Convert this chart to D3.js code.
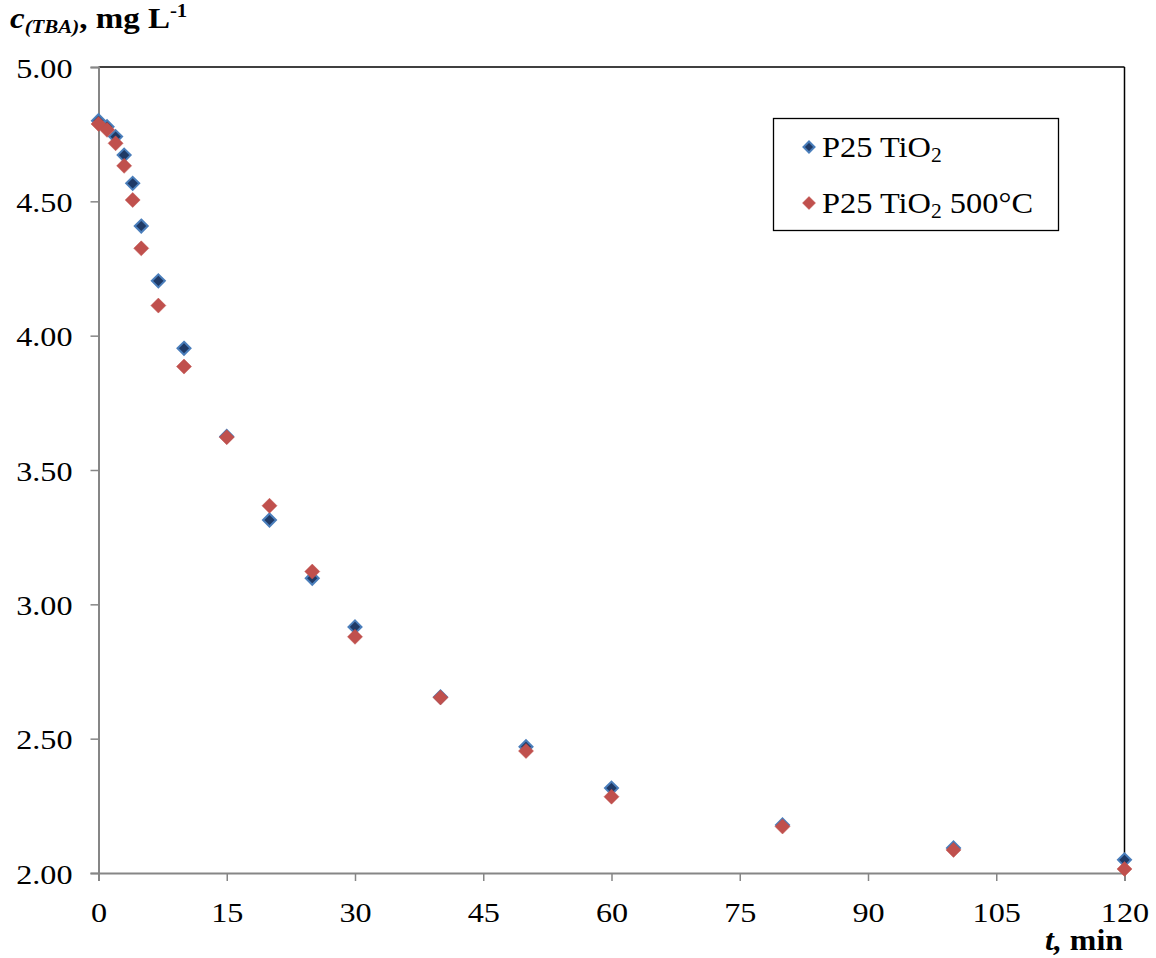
<!DOCTYPE html>
<html><head><meta charset="utf-8">
<script src="https://cdn.jsdelivr.net/npm/d3@7"></script>
<style>body{margin:0;background:#fff;} text{font-family:"Liberation Serif","Times New Roman",Times,serif;fill:#000;}</style>
</head><body>
<svg id="chart" width="1156" height="958"></svg>
<script>
const times = [0,1,2,3,4,5,7,10,15,20,25,30,40,50,60,80,100,120];
const p25 = [4.80,4.778,4.741,4.672,4.567,4.408,4.204,3.953,3.625,3.314,3.097,2.916,2.655,2.470,2.316,2.179,2.093,2.049];
const p25_500 = [4.788,4.766,4.716,4.632,4.505,4.325,4.112,3.885,3.622,3.367,3.122,2.879,2.653,2.454,2.284,2.173,2.086,2.015];
const xTicks = [0,15,30,45,60,75,90,105,120];
const yTicks = [2.0,2.5,3.0,3.5,4.0,4.5,5.0];
const seriesNames = ["P25 TiO", "P25 TiO"];

const svg = d3.select("#chart");
const SX = 1.15;
const x = d3.scaleLinear().domain([0,120]).range([98.5,1124.5]);
const y = d3.scaleLinear().domain([2,5]).range([873,67]);

// frame top/right
svg.append("line").attr("x1",98.5).attr("x2",1124.5).attr("y1",67).attr("y2",67).attr("stroke","#000").attr("stroke-width",1.5);
svg.append("line").attr("x1",1124.5).attr("x2",1124.5).attr("y1",67).attr("y2",873).attr("stroke","#000").attr("stroke-width",1.5);

// axes
const xAxis = svg.append("g").attr("transform","translate(0,873)")
  .call(d3.axisBottom(x).tickValues(xTicks).tickSize(8).tickFormat(d3.format("d")));
const yAxis = svg.append("g").attr("transform","translate(98.5,0)")
  .call(d3.axisLeft(y).tickValues(yTicks).tickSize(8).tickFormat(d3.format(".2f")));
[xAxis,yAxis].forEach(a=>{
  a.select(".domain").attr("stroke","#868686").attr("stroke-width",2);
  a.selectAll(".tick line").attr("stroke","#868686").attr("stroke-width",1.5);
  a.selectAll("text").attr("font-size",28).attr("fill","#000")
   .style("font-family",'"Liberation Serif","Times New Roman",serif');
});
xAxis.selectAll(".tick text").attr("y",0).attr("dy",0)
  .attr("transform",`translate(0,49) scale(${SX},1)`);
yAxis.selectAll(".tick text").attr("x",0).attr("dy",0)
  .attr("transform",`translate(-26,10) scale(${SX},1)`);

function dpath(r){ return `M0,${-r}L${r},0L0,${r}L${-r},0Z`; }

// blue series
svg.append("g").selectAll("path").data(times.map((t,i)=>[t,p25[i]])).join("path")
  .attr("d",dpath(6.5)).attr("transform",d=>`translate(${x(d[0])},${y(d[1])})`)
  .attr("fill","#1F3A66").attr("stroke","#4A7EBB").attr("stroke-width",2);
// red series
svg.append("g").selectAll("path").data(times.map((t,i)=>[t,p25_500[i]])).join("path")
  .attr("d",dpath(7.5)).attr("transform",d=>`translate(${x(d[0])},${y(d[1])})`)
  .attr("fill","#C0504D").attr("stroke","#C0504D").attr("stroke-width",0.5);

// legend
const lg = svg.append("g");
lg.append("rect").attr("x",773.5).attr("y",118.5).attr("width",285).attr("height",112)
  .attr("fill","#fff").attr("stroke","#000").attr("stroke-width",1.3);
const legItems = [{name:seriesNames[0],suffix:"",fill:"#1F3A66",stroke:"#4A7EBB",sw:2,r:5.5,cy:147},
                  {name:seriesNames[1],suffix:" 500°C",fill:"#C0504D",stroke:"#C0504D",sw:0.5,r:6.5,cy:203}];
legItems.forEach(it=>{
  lg.append("path").attr("d",dpath(it.r)).attr("transform",`translate(809,${it.cy})`)
    .attr("fill",it.fill).attr("stroke",it.stroke).attr("stroke-width",it.sw);
  const t = lg.append("text").attr("font-size",30).attr("transform",`translate(822,${it.cy+10}) scale(1.08,1)`);
  t.append("tspan").text(it.name);
  t.append("tspan").attr("font-size",20).attr("dy",5).text("2");
  if(it.suffix) t.append("tspan").attr("dy",-5).text(it.suffix);
});

// y title
const yt = svg.append("text").attr("transform",`translate(10,28) scale(1.1,1)`).attr("font-weight","bold").attr("font-size",30);
yt.append("tspan").attr("font-style","italic").text("c");
yt.append("tspan").attr("font-style","italic").attr("font-size",19).attr("dy",5).text("(TBA)");
yt.append("tspan").attr("dy",-5).text(", mg L");
yt.append("tspan").attr("font-size",19).attr("dy",-11).text("-1");

// x title
const xt = svg.append("text").attr("text-anchor","end").attr("transform",`translate(1123,950) scale(1.1,1)`).attr("font-weight","bold").attr("font-size",29);
xt.append("tspan").attr("font-style","italic").text("t,");
xt.append("tspan").text(" min");
</script>
</body></html>
